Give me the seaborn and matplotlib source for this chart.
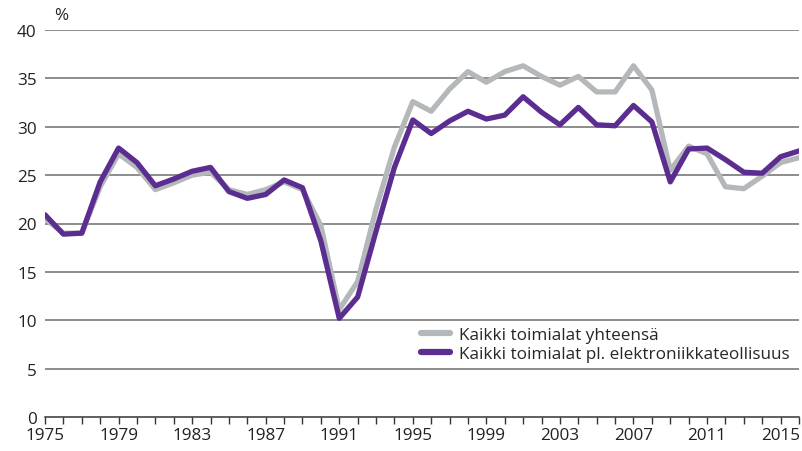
import matplotlib
matplotlib.use("Agg")
import matplotlib.pyplot as plt
import seaborn as sns
import pandas as pd

years = list(range(1975, 2017))
total = [20.5, 19.0, 19.0, 23.8, 27.2, 25.8, 23.5, 24.2, 25.0, 25.3,
         23.5, 23.0, 23.5, 24.3, 23.5, 19.8, 11.1, 14.0, 21.5, 27.9,
         32.6, 31.6, 33.9, 35.7, 34.6, 35.7, 36.3, 35.2, 34.3, 35.2,
         33.6, 33.6, 36.3, 33.8, 25.5, 28.0, 27.2, 23.8, 23.6, 24.9,
         26.3, 26.8]
excl = [20.9, 18.9, 19.0, 24.3, 27.8, 26.3, 23.9, 24.6, 25.4, 25.8,
        23.3, 22.6, 23.0, 24.5, 23.7, 18.2, 10.2, 12.4, 19.2, 25.8,
        30.7, 29.3, 30.6, 31.6, 30.8, 31.2, 33.1, 31.5, 30.2, 32.0,
        30.2, 30.1, 32.2, 30.5, 24.3, 27.7, 27.8, 26.6, 25.3, 25.2,
        26.9, 27.5]
labels = ["Kaikki toimialat yhteensä", "Kaikki toimialat pl. elektroniikkateollisuus"]
yticks = [0, 5, 10, 15, 20, 25, 30, 35, 40]
xticklabels = list(range(1975, 2017, 4))

df = pd.DataFrame({"year": years * 2,
                   "value": total + excl,
                   "series": [labels[0]] * len(years) + [labels[1]] * len(years)})

sns.set_theme(style="white")
plt.rcParams["font.family"] = ["Open Sans", "DejaVu Sans"]

FS = 12.3
fig = plt.figure(figsize=(8.02, 4.52), dpi=100)
ax = fig.add_axes([45 / 802, 1 - 418 / 452, (799 - 45) / 802, (418 - 31) / 452])

for y in yticks[1:]:
    ax.axhline(y, color="#6e6e6e", lw=1.1, zorder=1)

sns.lineplot(data=df, x="year", y="value", hue="series",
             palette=["#b5b8ba", "#5c2d91"], linewidth=3.8, ax=ax,
             zorder=3, legend=True)

ax.set_xlim(1975, 2016)
ax.set_ylim(0, 40)
ax.set_xlabel("")
ax.set_ylabel("")
ax.set_yticks(yticks)
ax.set_yticklabels([str(v) for v in yticks], fontsize=FS, color="#222222")
ax.set_xticks(years, minor=True)
ax.set_xticks(xticklabels)
ax.set_xticklabels([str(v) for v in xticklabels], fontsize=FS, color="#222222")
ax.tick_params(axis="x", which="both", direction="out", length=5, width=1,
               color="#333333", bottom=True, pad=2)
ax.tick_params(axis="y", length=0, pad=6)
for s in ["top", "right", "left"]:
    ax.spines[s].set_visible(False)
ax.spines["bottom"].set_color("#333333")
ax.spines["bottom"].set_linewidth(1.1)

fig.text(54 / 802, 1 - 16 / 452, "%", fontsize=FS, color="#222222", va="center")

leg = ax.legend(loc="upper left", bbox_to_anchor=(0.49, 0.25), frameon=False,
                fontsize=FS, handlelength=1.7, handletextpad=0.5,
                labelspacing=0.15, borderaxespad=0)
for h in leg.get_lines():
    h.set_linewidth(4.5)
    h.set_solid_capstyle("round")

fig.savefig("out.png", dpi=100)
